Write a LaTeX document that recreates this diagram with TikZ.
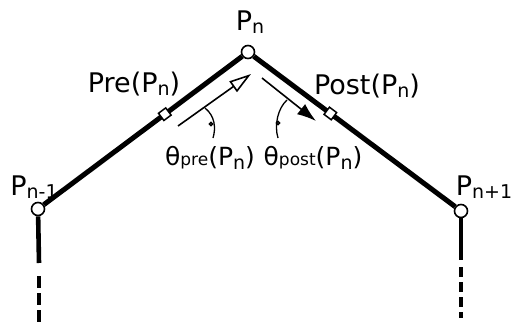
\documentclass[tikz,border=0pt]{standalone}
\usepackage{fontspec}
\setmainfont{DejaVu Sans}
\usetikzlibrary{arrows.meta}
\newcommand{\lo}[1]{\raisebox{-3.5pt}{\fontsize{19}{19}\selectfont #1}}
\newcommand{\sm}[1]{{\fontsize{17}{17}\selectfont #1}}

\begin{document}
\begin{tikzpicture}[x=1pt, y=-1pt,
  edge/.style={line width=5pt},
  vert/.style={line width=4.6pt},
  joint/.style={circle, draw, line width=1.6pt, fill=white, inner sep=0pt, minimum size=13pt},
  midbox/.style={rectangle, draw, line width=1.5pt, fill=white, inner sep=0pt, minimum size=9pt, sloped},
  lbl/.style={font=\fontsize{27}{29}\selectfont, inner sep=0pt},
  thlbl/.style={font=\fontsize{25}{27}\selectfont, inner sep=0pt},
  dir/.style={line width=1.6pt},
  tick/.style={line width=1.3pt}]
\useasboundingbox (0,0) rectangle (514,324);
% joints of the chain
\node[joint] (pn) at (248,52) {};
\node[joint] (pnm) at (38,209) {};
\node[joint] (pnp) at (461,211) {};
\coordinate (lsolid) at (39,263);
\coordinate (ldash) at (39,276);
\coordinate (lend) at (39,324);
\coordinate (rsolid) at (461,260);
\coordinate (rdash) at (461,267);
\coordinate (rend) at (461,318);
\draw[edge] (pnm) -- node[midbox, pos=0.61] (pre) {} (pn);
\draw[edge] (pn) -- node[midbox, pos=0.38] (post) {} (pnp);
\draw[vert] (pnm) -- (lsolid);
\draw[vert, dash pattern=on 12pt off 5pt] (ldash) -- (lend);
\draw[vert] (pnp) -- (rsolid);
\draw[vert, dash pattern=on 10pt off 5pt] (rdash) -- (rend);
% direction arrows
\coordinate (pretail) at (178,126);
\coordinate (prehead) at (251,74);
\coordinate (posttail) at (262,78);
\coordinate (posthead) at (316,121);
\draw[dir, -{Triangle[open, length=22pt, width=13pt, line width=1.6pt]}] (pretail) -- (prehead);
\draw[dir, -{Latex[length=19pt, width=13pt]}] (posttail) -- (posthead);
% angle marks
\draw[tick] (205,108) .. controls (215,116) and (216,128) .. (213,138);
\draw[tick] (211,124) circle[radius=1.6pt];
\draw[tick] (287,100) .. controls (278,108) and (274,125) .. (278,138);
\draw[tick] (278,123) circle[radius=1.6pt];
% labels
\node[lbl] (pnlbl) at (250,22) {P\lo{n}};
\node[lbl] (prelbl) at (134,84) {Pre(P\lo{n})};
\node[lbl] (postlbl) at (367,86) {Post(P\lo{n})};
\node[thlbl] (thpre) at (210,158) {θ\sm{pre}(P\lo{n})};
\node[thlbl] (thpost) at (313,158) {θ\sm{post}(P\lo{n})};
\node[lbl] (pnmlbl) at (34,187) {P\lo{n-1}};
\node[lbl] (pnplbl) at (484,187) {P\lo{n+1}};
\end{tikzpicture}
\end{document}
